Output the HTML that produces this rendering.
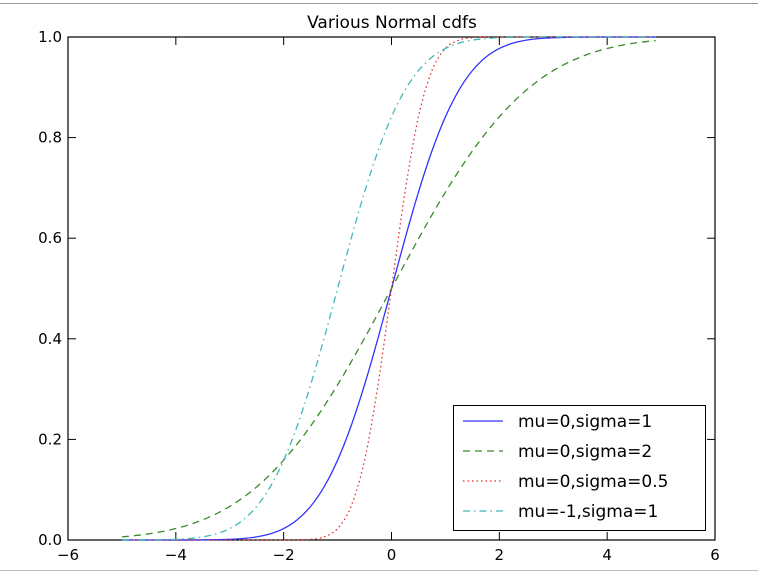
<!DOCTYPE html>
<html><head><meta charset="utf-8"><style>
body{margin:0;background:#fff;}
svg text{font-family:"DejaVu Sans","Liberation Sans",sans-serif;}
</style></head><body>
<svg id="chart" width="758" height="572" xmlns="http://www.w3.org/2000/svg">
<line x1="0" y1="3.5" x2="758" y2="3.5" stroke="#999" stroke-width="1"/>
<line x1="0" y1="570.5" x2="758" y2="570.5" stroke="#bbb" stroke-width="1"/>
<text x="392" y="28" font-size="17" text-anchor="middle">Various Normal cdfs</text>
<g id="axes"></g>
<g id="series"></g>
<g id="legend">
<rect x="453.5" y="405.5" width="252" height="125" fill="#fff" stroke="#000" stroke-width="1"/>
</g>
</svg>
<script>
const xValues=[-5,-4.75,-4.5,-4.25,-4,-3.75,-3.5,-3.25,-3,-2.75,-2.5,-2.25,-2,-1.75,-1.5,-1.25,-1,-0.75,-0.5,-0.25,0,0.25,0.5,0.75,1,1.25,1.5,1.75,2,2.25,2.5,2.75,3,3.25,3.5,3.75,4,4.25,4.5,4.75,4.9];
const seriesS1=[0,0,0,0,0.00003,0.00009,0.00023,0.00058,0.00135,0.00298,0.00621,0.01222,0.02275,0.04006,0.06681,0.10565,0.15866,0.22663,0.30854,0.40129,0.5,0.59871,0.69146,0.77337,0.84134,0.89435,0.93319,0.95994,0.97725,0.98778,0.99379,0.99702,0.99865,0.99942,0.99977,0.99991,0.99997,0.99999,1,1,1];
const seriesS2=[0.0062,0.0088,0.0122,0.0168,0.0228,0.0304,0.0401,0.0521,0.0668,0.0846,0.1056,0.1303,0.1587,0.1908,0.2266,0.2660,0.3085,0.3538,0.4013,0.4503,0.5,0.5497,0.5987,0.6462,0.6915,0.7340,0.7734,0.8092,0.8413,0.8697,0.8944,0.9154,0.9332,0.9479,0.9599,0.9696,0.9772,0.9832,0.9878,0.9912,0.9928];
const seriesS05=[0,0,0,0,0,0,0,0,0,0,0,0,0.00003,0.0002,0.0013,0.0062,0.0228,0.0668,0.1587,0.3085,0.5,0.6915,0.8413,0.9332,0.9772,0.9938,0.9987,0.9998,1,1,1,1,1,1,1,1,1,1,1,1,1];
const seriesM1=[0.00003,0.0001,0.0002,0.0006,0.0013,0.0030,0.0062,0.0122,0.0228,0.0401,0.0668,0.1056,0.1587,0.2266,0.3085,0.4013,0.5,0.5987,0.6915,0.7734,0.8413,0.8944,0.9332,0.9599,0.9772,0.9878,0.9938,0.9970,0.9987,0.9994,0.9998,0.9999,1,1,1,1,1,1,1,1,1];
const seriesNames=["mu=0,sigma=1","mu=0,sigma=2","mu=0,sigma=0.5","mu=-1,sigma=1"];
const xTicks=[-6,-4,-2,0,2,4,6];
const yTicks=[0,0.2,0.4,0.6,0.8,1.0];
const yTickLabels=["0.0","0.2","0.4","0.6","0.8","1.0"];

const L=68,R=715,T=37,B=540;
const xs=v=>L+(v+6)/12*(R-L);
const ys=v=>B-v*(B-T);
const NS="http://www.w3.org/2000/svg";
function mk(tag,attrs,parent){const e=document.createElementNS(NS,tag);for(const k in attrs)e.setAttribute(k,attrs[k]);parent.appendChild(e);return e;}
const axes=document.getElementById('axes');
const frame=mk('rect',{x:L,y:T,width:R-L,height:B-T,fill:'none',stroke:'#000','stroke-width':1.2},axes);


xTicks.forEach(t=>{
  const x=xs(t);
  const a=mk('line',{x1:x,y1:B,x2:x,y2:B-8,stroke:'#000'},axes);
  
  
  const b=mk('line',{x1:x,y1:T,x2:x,y2:T+8,stroke:'#000'},axes);
  
  
  const tx=mk('text',{x:x,y:B+20,'font-size':15,'text-anchor':'middle'},axes);
  tx.textContent=(t<0?'\u2212'+(-t):String(t));
  
  
});
yTicks.forEach((t,i)=>{
  const y=ys(t);
  const a=mk('line',{x1:L,y1:y,x2:L+8,y2:y,stroke:'#000'},axes);
  
  
  const b=mk('line',{x1:R,y1:y,x2:R-8,y2:y,stroke:'#000'},axes);
  
  
  const tx=mk('text',{x:L-6,y:y+5,'font-size':15,'text-anchor':'end'},axes);
  tx.textContent=yTickLabels[i];
  
  
});
const styles=[
  {c:'#3333ff',d:'',w:1.3},
  {c:'#3a8a2a',d:'7,5',w:1.3},
  {c:'#e03030',d:'1.5,3',w:1.3},
  {c:'#40b8b8',d:'7,4,1.5,4',w:1.3}
];
const allSeries=[seriesS1,seriesS2,seriesS05,seriesM1];
const sg=document.getElementById('series');
function smoothPath(pts){
  let d='M'+pts[0][0]+','+pts[0][1];
  for(let i=0;i<pts.length-1;i++){
    const p0=pts[i-1]||pts[i],p1=pts[i],p2=pts[i+1],p3=pts[i+2]||p2;
    const c1=[p1[0]+(p2[0]-p0[0])/6,p1[1]+(p2[1]-p0[1])/6];
    const c2=[p2[0]-(p3[0]-p1[0])/6,p2[1]-(p3[1]-p1[1])/6];
    d+=' C'+c1[0]+','+c1[1]+' '+c2[0]+','+c2[1]+' '+p2[0]+','+p2[1];
  }
  return d;
}
allSeries.forEach((s,k)=>{
  const pts=s.map((v,i)=>[xs(xValues[i]),ys(v)]);
  const p=mk('path',{d:smoothPath(pts),fill:'none',stroke:styles[k].c,'stroke-width':styles[k].w,'stroke-dasharray':styles[k].d},sg);
  
  
});
const lg=document.getElementById('legend');
const ly=[421,451,481,511];
seriesNames.forEach((n,k)=>{
  const l=mk('line',{x1:463,y1:ly[k],x2:503,y2:ly[k],stroke:styles[k].c,'stroke-width':styles[k].w,'stroke-dasharray':styles[k].d},lg);
  
  
  const t=mk('text',{x:518,y:ly[k]+6,'font-size':17},lg);
  t.textContent=n;
  
  
});
</script>
</body></html>
